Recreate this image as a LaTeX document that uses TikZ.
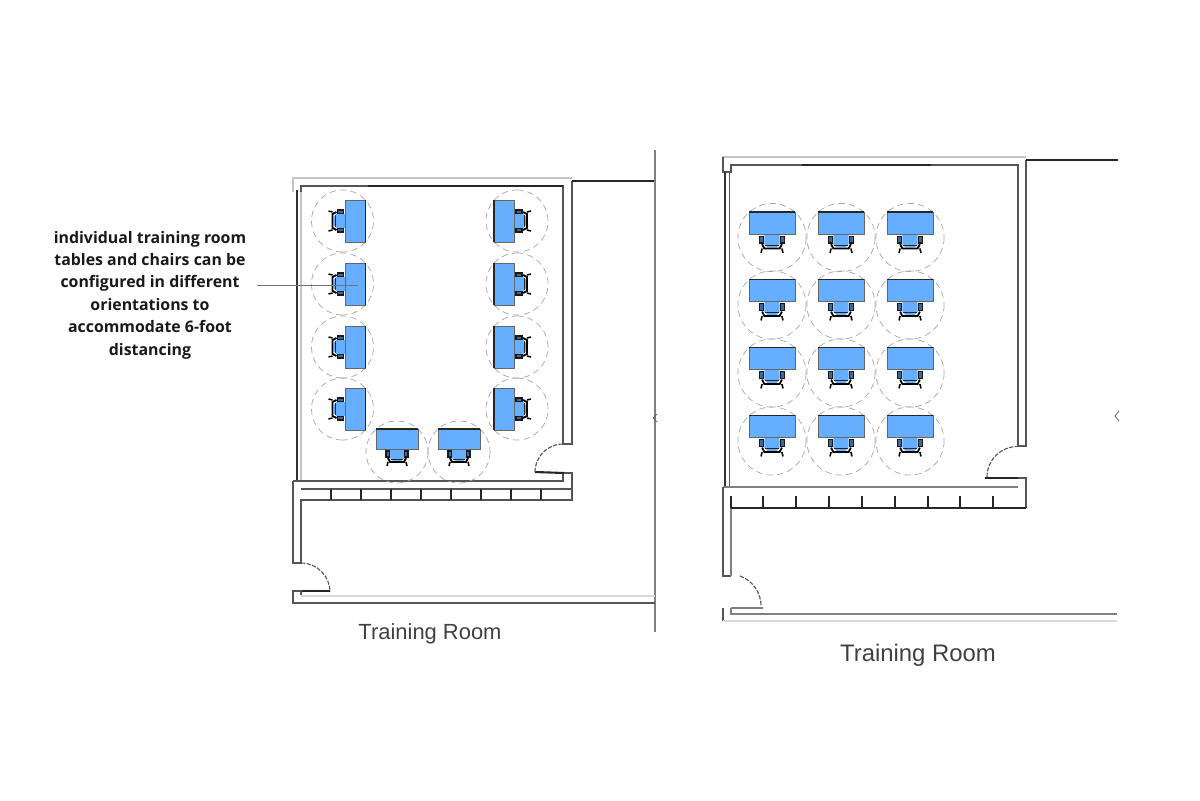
\documentclass[tikz,border=0pt]{standalone}
\usepackage{fontspec}
\setmainfont{Open Sans}
\newfontfamily\labelfont{Liberation Sans}
\definecolor{deskblue}{HTML}{66AEFF}
\definecolor{wall}{HTML}{555555}
\definecolor{softwall}{HTML}{C4C4C4}
\tikzset{
  wallline/.style={draw=wall,line width=.8pt},
  softline/.style={draw=softwall,line width=.9pt},
  heavyline/.style={draw=black!85,line width=1.5pt},
  doorswing/.style={draw=wall,line width=.8pt,dash pattern=on 3pt off 1pt},
  ring/.style={draw=gray!70,line width=.5pt,dash pattern=on 4.5pt off 3pt},
  roomlabel/.style={font=\labelfont,text=black!75},
  deskset/.pic={
    \draw[ring](0,0)circle(31);
    \fill[deskblue](-7,-3)--(7,-3)--(7,6)--(4,9)--(-4,9)--(-7,6)--cycle;
    \draw[black!90,fill=deskblue!60!black,line width=.8pt](-11,-1)rectangle(-7.5,5);
    \draw[black!90,fill=deskblue!60!black,line width=.8pt](7.5,-1)rectangle(11,5);
    \draw[black!85,line width=.7pt](-6,7)--(6,7);
    \draw[black,line width=1.3pt](-9,6)--(-7,10)--(7,10)--(9,6);
    \draw[black,line width=1.1pt](-9,10)--(-10,14);
    \draw[black,line width=1.1pt](9,10)--(10,14);
    \draw[fill=deskblue,draw=black!60,line width=.4pt](-21,-23)rectangle(21,-3);
    \draw[black!85,line width=1pt](-21,-23)--(21,-23);
  }
}
\begin{document}
\begin{tikzpicture}[x=.025cm,y=-.025cm]
\useasboundingbox(0,0)rectangle(1200,800);
% left room
\draw[softline](293,192)--(293,178)--(572,178);
\draw[wallline](301,192)--(301,186)--(563,186)--(563,444)--(572,444)--(572,181);
\draw[heavyline](368,186)--(563,186);
\draw[heavyline,line width=2pt](572,181)--(655,181);
\draw[wallline,line width=1.2pt,draw=black!80](297,190)--(297,481);
\draw[softline](301,192)--(301,481);
\draw[softline,draw=gray](655,150)--(655,632);
\draw[wallline](293,481)--(563,481)--(563,473);
\draw[heavyline](535,472)--(564,473);
\draw[wallline](564,473)--(572,473)--(572,500)--(301,500)--(301,563)--(293,563)--(293,481);
\draw[wallline](301,489)--(572,489);
\foreach \tickx in {331,361,391,421,451,481,511,541}
  \draw[wallline,line width=1.1pt,draw=black!85](\tickx,489)--(\tickx,500);
\draw[doorswing](535,472) arc (180:270:28);
\draw[doorswing](301,563) arc (-90:0:29);
\draw[heavyline,line width=1pt](301,591)--(330,591);
\draw[wallline](301,595)--(301,591)--(293,591)--(293,603)--(655,603);
\draw[softline,line width=1.6pt,draw=black!15](301,596)--(655,596);
\draw[wallline,line width=.5pt](657,414)--(653,418)--(657,422);
% left room desks
\foreach \rowy in {221,284,347,409}{
  \pic[rotate=-90] at (342.5,\rowy) {deskset};
  \pic[rotate=90] at (517,\rowy) {deskset};
}
\pic at (397,452) {deskset};
\pic at (459,452) {deskset};
% right room
\draw[softline](723,172)--(723,157)--(1026,157);
\draw[wallline](723,157)--(723,172)--(731,172)--(731,165)--(1018,165)--(1018,446)--(1026,446)--(1026,160);
\draw[heavyline](802,165)--(931,165);
\draw[heavyline,line width=1.3pt](1026,160)--(1118,160);
\draw[wallline,line width=1pt,draw=black!80](725,172)--(725,487);
\draw[wallline](729.5,172)--(729.5,487);
\draw[softline,draw=gray](723,487)--(1018,487);
\draw[wallline,line width=1pt](723,487)--(723,576)--(731,576);
\draw[softline,draw=gray](731,508)--(731,576);
\draw[heavyline,line width=1.3pt](985,478)--(1018,478);
\draw[wallline](1018,478)--(1026,478)--(1026,508);
\draw[wallline,line width=1.1pt,draw=black!85](731,508)--(1026,508);
\foreach \tickx in {731,763,796,829,862,895,928,960,993}
  \draw[wallline,line width=1pt,draw=black!85](\tickx,496)--(\tickx,508);
\draw[doorswing](987,477) arc (180:270:30.5);
\draw[doorswing](740,576) arc (-70:0:32);
\draw[softline,draw=gray](731,608)--(763,608);
\draw[softline,draw=gray](731,608)--(731,614)--(1117,614);
\draw[wallline,line width=1pt](723,608)--(723,621);
\draw[softline,draw=black!15](723,621)--(1117,621);
\draw[wallline,line width=.5pt](1119,411)--(1115,416)--(1119,421);
% right room desks
\foreach \rowy in {237.5,305,373,441}
  \foreach \colx in {772,841,910}
    \pic[scale=1.1] at (\colx,\rowy) {deskset};
% labels
\node[roomlabel,font=\labelfont\fontsize{15.6}{18}\selectfont](leftlabel) at (430,634){Training Room};
\node[roomlabel,font=\labelfont\fontsize{17}{20}\selectfont](rightlabel) at (918,655){Training Room};
\node[align=center,font=\bfseries\fontsize{11.3}{15.9}\selectfont,text=black!90](note) at (150,295){individual training room\\tables and chairs can be\\configured in different\\orientations to\\accommodate 6-foot\\distancing};
\coordinate (leadstart) at (257,285);
\coordinate (leadtip) at (358,285);
\draw[gray!90!black,line width=.6pt](leadstart)--(leadtip);
\end{tikzpicture}
\end{document}
